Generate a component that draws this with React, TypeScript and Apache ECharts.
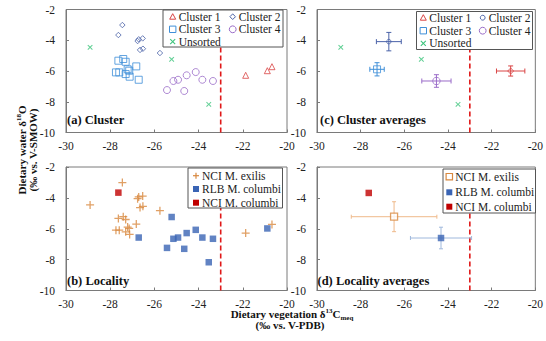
import React, { useEffect, useRef } from 'react';
import * as echarts from 'echarts';

const FONT = '"Liberation Serif", "Times New Roman", serif';

// axis ticks
const xMin = -30, xMax = -20, xStep = 2;
const yMin = -10, yMax = -2, yStep = 2;
const divideX = -23;

// (a) Cluster
const cluster1 = [[-21.87, -6.28], [-20.89, -5.98], [-20.68, -5.72]];
const cluster2 = [[-27.45, -3.01], [-27.63, -3.66], [-26.76, -4.05], [-26.71, -3.94], [-26.53, -3.88], [-26.65, -4.63], [-26.52, -4.55], [-25.75, -4.83]];
const cluster3 = [[-27.41, -5.22], [-27.63, -5.33], [-27.30, -5.40], [-27.74, -6.09], [-27.59, -6.09], [-27.21, -5.89], [-27.14, -5.98], [-27.30, -6.20], [-27.12, -6.37], [-26.82, -5.70], [-26.71, -6.57]];
const cluster4 = [[-25.43, -7.24], [-25.14, -6.65], [-24.93, -6.57], [-24.65, -7.30], [-24.54, -6.28], [-24.13, -6.07], [-23.83, -6.57], [-23.35, -6.65]];
const unsorted = [[-28.91, -4.46], [-25.22, -5.24], [-23.54, -8.17]];

// (b) Locality
const nciExilis = [[-27.45, -3.01], [-26.76, -4.05], [-26.71, -3.94], [-26.53, -3.88], [-26.65, -4.63], [-26.52, -4.55], [-25.75, -4.83],
  [-27.41, -5.22], [-27.63, -5.33], [-27.30, -5.40], [-27.74, -6.09], [-27.59, -6.09], [-27.21, -5.89], [-27.14, -5.98], [-27.30, -6.20], [-27.12, -6.37], [-26.82, -5.70],
  [-28.91, -4.46], [-21.87, -6.28], [-20.68, -5.72]];
const rlbColumbi = [[-25.43, -7.24], [-25.14, -6.65], [-24.93, -6.57], [-24.65, -7.30], [-24.54, -6.28], [-24.13, -6.07], [-23.83, -6.57], [-23.35, -6.65],
  [-25.22, -5.24], [-23.54, -8.17], [-26.71, -6.57], [-20.89, -5.98]];
const nciColumbi = [[-27.63, -3.66]];

// (c) Cluster averages: [x, y, xErr, yErr]
const c1Avg = [-21.13, -6.0, 0.65, 0.33];
const c2Avg = [-26.71, -4.09, 0.57, 0.6];
const c3Avg = [-27.25, -5.89, 0.33, 0.43];
const c4Avg = [-24.53, -6.65, 0.67, 0.41];

// (d) Locality averages
const exilisAvg = [-26.47, -5.22, 1.96, 0.97];
const rlbAvg = [-24.32, -6.6, 1.4, 0.7];
const nciColAvg = [-27.63, -3.68];

const C1 = '#d94444', C2 = '#4a62a8', C3 = '#3f8fd8', C4 = '#9a6cc8', CU = '#3cc47c';
const CEX = '#d8883f', CRLB = '#3a64b4', CNCI = '#c00000';

const PLUS = 'path://M4.2,0H5.8V4.2H10V5.8H5.8V10H4.2V5.8H0V4.2H4.2Z';
const DIAMOND = 'path://M5,0L10,5L5,10L0,5Z';

// layout (grid order: a, c, b, d)
const grids = [
  { left: 66, top: 9.5, width: 221, height: 123 },
  { left: 317, top: 9.5, width: 219, height: 123 },
  { left: 66, top: 167, width: 221, height: 123.5 },
  { left: 317, top: 167, width: 219, height: 123.5 },
];
const legendBoxes = [
  [163, 10, 120, 37],
  [416.5, 11.5, 116, 38],
  [188, 168, 94.5, 40],
  [443, 169, 92.5, 44],
];

function scatter(idx: number, name: string, data: number[][], symbol: string, size: number, color: string, filled: boolean, rotate = 0) {
  return {
    type: 'scatter', name, xAxisIndex: idx, yAxisIndex: idx, data, symbol, symbolSize: size, symbolRotate: rotate,
    itemStyle: filled ? { color, borderWidth: 0 } : { color: 'rgba(0,0,0,0)', borderColor: color, borderWidth: 1 },
    z: 4,
  };
}

function errBars(idx: number, d: number[], color: string, cap: number) {
  return {
    type: 'custom', xAxisIndex: idx, yAxisIndex: idx, data: [d], encode: { x: 0, y: 1 }, silent: true, z: 3,
    renderItem: (_p: any, api: any) => {
      const x = api.value(0), y = api.value(1), ex = api.value(2), ey = api.value(3);
      const l = api.coord([x - ex, y]), r = api.coord([x + ex, y]);
      const t = api.coord([x, y + ey]), b = api.coord([x, y - ey]);
      const st = { stroke: color, lineWidth: 1 };
      const ln = (x1: number, y1: number, x2: number, y2: number) => ({ type: 'line', shape: { x1, y1, x2, y2 }, style: st });
      return {
        type: 'group', children: [
          ln(l[0], l[1], r[0], r[1]), ln(t[0], t[1], b[0], b[1]),
          ln(l[0], l[1] - cap, l[0], l[1] + cap), ln(r[0], r[1] - cap, r[0], r[1] + cap),
          ln(t[0] - cap, t[1], t[0] + cap, t[1]), ln(b[0] - cap, b[1], b[0] + cap, b[1]),
        ],
      };
    },
  };
}

// dashed divider drawn through the axes' scales, stopping under the legend box
function divider(idx: number) {
  return {
    type: 'custom', xAxisIndex: idx, yAxisIndex: idx, data: [[divideX, yMin, yMax]], encode: { x: 0, y: 1 }, silent: true, z: 1,
    renderItem: (_p: any, api: any) => {
      const a = api.coord([api.value(0), api.value(1)]);
      const b = api.coord([api.value(0), api.value(2)]);
      const bx = legendBoxes[idx];
      let topY = b[1];
      if (a[0] >= bx[0] && a[0] <= bx[0] + bx[2]) topY = Math.max(topY, bx[1] + bx[3]);
      return { type: 'line', shape: { x1: a[0], y1: a[1], x2: b[0], y2: topY }, style: { stroke: '#e01818', lineWidth: 1.6, lineDash: [5, 3] } };
    },
  };
}

function icon(kind: string, cx: number, cy: number, color: string): any[] {
  const st = { stroke: color, fill: 'none', lineWidth: 1 };
  switch (kind) {
    case 'tri': return [{ type: 'polygon', shape: { points: [[cx, cy - 3], [cx + 3, cy + 2.5], [cx - 3, cy + 2.5]] }, style: st }];
    case 'dia': return [{ type: 'polygon', shape: { points: [[cx, cy - 2.8], [cx + 2.8, cy], [cx, cy + 2.8], [cx - 2.8, cy]] }, style: st }];
    case 'sq': return [{ type: 'rect', shape: { x: cx - 3.2, y: cy - 3.2, width: 6.4, height: 6.4 }, style: st }];
    case 'circ': return [{ type: 'circle', shape: { cx, cy, r: 3.4 }, style: st }];
    case 'scirc': return [{ type: 'circle', shape: { cx, cy, r: 2.4 }, style: st }];
    case 'x': return [
      { type: 'line', shape: { x1: cx - 2.5, y1: cy - 2.5, x2: cx + 2.5, y2: cy + 2.5 }, style: { stroke: color, lineWidth: 1.1 } },
      { type: 'line', shape: { x1: cx - 2.5, y1: cy + 2.5, x2: cx + 2.5, y2: cy - 2.5 }, style: { stroke: color, lineWidth: 1.1 } }];
    case 'plus': return [
      { type: 'line', shape: { x1: cx - 3, y1: cy, x2: cx + 3, y2: cy }, style: { stroke: color, lineWidth: 1.2 } },
      { type: 'line', shape: { x1: cx, y1: cy - 3, x2: cx, y2: cy + 3 }, style: { stroke: color, lineWidth: 1.2 } }];
    case 'fsq': return [{ type: 'rect', shape: { x: cx - 3, y: cy - 3, width: 6, height: 6 }, style: { fill: color } }];
    case 'osq': return [{ type: 'rect', shape: { x: cx - 3.2, y: cy - 3.2, width: 6.4, height: 6.4 }, style: { stroke: color, fill: '#fff', lineWidth: 1.2 } }];
  }
  return [];
}

function legendBox(box: number[], items: [string, string, string, number, number][]) {
  const out: any[] = [{ type: 'rect', shape: { x: box[0], y: box[1], width: box[2], height: box[3] }, style: { fill: '#ffffff', stroke: '#555', lineWidth: 1 } }];
  items.forEach(([kind, color, label, ix, iy]) => {
    out.push(...icon(kind, ix, iy, color));
    out.push({ type: 'text', x: ix + 6, y: iy, style: { text: label, fontFamily: FONT, fontSize: 11.5, fill: '#222', verticalAlign: 'middle', textAlign: 'left' } });
  });
  return out;
}

function panelTitle(text: string, x: number, y: number) {
  return { type: 'text', x, y, style: { text, fontFamily: FONT, fontSize: 12.5, fontWeight: 'bold', fill: '#111', verticalAlign: 'middle', textAlign: 'left' } };
}

const richBase = {
  sup: { fontFamily: FONT, fontSize: 7, fontWeight: 'bold', fill: '#111', verticalAlign: 'top', lineHeight: 14 },
  sub: { fontFamily: FONT, fontSize: 7, fontWeight: 'bold', fill: '#111', verticalAlign: 'bottom', lineHeight: 14 },
};

const overlayChildren = [
  ...legendBox(legendBoxes[0], [
    ['tri', C1, 'Cluster 1', 172.7, 16.7], ['dia', C2, 'Cluster 2', 232.7, 16.7],
    ['sq', C3, 'Cluster 3', 172.7, 29.3], ['circ', C4, 'Cluster 4', 232.7, 29.3],
    ['x', CU, 'Unsorted', 172.7, 41.7],
  ]),
  ...legendBox(legendBoxes[1], [
    ['tri', C1, 'Cluster 1', 423.3, 17.7], ['scirc', C2, 'Cluster 2', 482.7, 17.7],
    ['sq', C3, 'Cluster 3', 423.3, 30.7], ['circ', C4, 'Cluster 4', 482.7, 30.7],
    ['x', CU, 'Unsorted', 423.3, 43.3],
  ]),
  ...legendBox(legendBoxes[2], [
    ['plus', CEX, 'NCI M. exilis', 196, 175.7],
    ['fsq', CRLB, 'RLB M. columbi', 196, 189],
    ['fsq', CNCI, 'NCI M. columbi', 196, 202.7],
  ]),
  ...legendBox(legendBoxes[3], [
    ['osq', CEX, 'NCI M. exilis', 449.3, 176.7],
    ['fsq', CRLB, 'RLB M. columbi', 449.3, 192.3],
    ['fsq', CNCI, 'NCI M. columbi', 449.3, 206.7],
  ]),
  panelTitle('(a) Cluster', 67, 120),
  panelTitle('(c) Cluster averages', 320, 119.5),
  panelTitle('(b) Locality', 67, 280.5),
  panelTitle('(d) Locality averages', 317.5, 280.5),
];

export default function App() {
  const ref = useRef<HTMLDivElement>(null);
  useEffect(() => {
    if (!ref.current) return;
    const chart = echarts.init(ref.current, null, { renderer: 'svg' });
    const idxs = [0, 1, 2, 3];
    const option: any = {
      animation: false,
      backgroundColor: '#fff',
      grid: grids.map(g => ({ ...g, show: true, borderColor: '#7a7a7a', borderWidth: 1, backgroundColor: 'transparent' })),
      xAxis: idxs.map(i => ({
        gridIndex: i, type: 'value', min: xMin, max: xMax, interval: xStep,
        axisLine: { show: true, onZero: false, lineStyle: { color: '#7a7a7a' } },
        axisTick: { show: true, inside: true, length: 3, lineStyle: { color: '#7a7a7a' } },
        axisLabel: { margin: 7, fontFamily: FONT, fontSize: 11.5, color: '#222' },
        splitLine: { show: false },
      })),
      yAxis: idxs.map(i => ({
        gridIndex: i, type: 'value', min: yMin, max: yMax, interval: yStep,
        axisLine: { show: true, onZero: false, lineStyle: { color: '#7a7a7a' } },
        axisTick: { show: true, inside: true, length: 3, lineStyle: { color: '#7a7a7a' } },
        axisLabel: { margin: 11, fontFamily: FONT, fontSize: 11.5, color: '#222' },
        splitLine: { show: false },
      })),
      series: [
        ...idxs.map(i => divider(i)),
        // (a)
        scatter(0, 'Cluster 1', cluster1, 'triangle', 6, C1, false),
        scatter(0, 'Cluster 2', cluster2, DIAMOND, 5.5, C2, false),
        scatter(0, 'Cluster 3', cluster3, 'rect', 7, C3, false),
        scatter(0, 'Cluster 4', cluster4, 'circle', 7, C4, false),
        scatter(0, 'Unsorted', unsorted, PLUS, 6.5, CU, true, 45),
        // (c)
        errBars(1, c1Avg, C1, 2.5), errBars(1, c2Avg, C2, 2.5), errBars(1, c3Avg, C3, 2.5), errBars(1, c4Avg, C4, 2.5),
        scatter(1, 'C1 avg', [c1Avg.slice(0, 2)], DIAMOND, 6, C1, false),
        scatter(1, 'C2 avg', [c2Avg.slice(0, 2)], 'circle', 4.5, C2, false),
        scatter(1, 'C3 avg', [c3Avg.slice(0, 2)], 'rect', 7, C3, false),
        scatter(1, 'C4 avg', [c4Avg.slice(0, 2)], 'circle', 7.5, C4, false),
        scatter(1, 'Unsorted c', unsorted, PLUS, 6.5, CU, true, 45),
        // (b)
        scatter(2, 'NCI M. exilis', nciExilis, PLUS, 8, CEX, true),
        scatter(2, 'RLB M. columbi', rlbColumbi, 'rect', 6.5, CRLB, true),
        scatter(2, 'NCI M. columbi', nciColumbi, 'rect', 6.5, CNCI, true),
        // (d)
        errBars(3, exilisAvg, '#efb98a', 2), errBars(3, rlbAvg, '#9fb8dc', 2),
        { ...scatter(3, 'exilis avg', [exilisAvg.slice(0, 2)], 'rect', 7, CEX, false), itemStyle: { color: '#fff', borderColor: CEX, borderWidth: 1.3 } },
        scatter(3, 'rlb avg', [rlbAvg.slice(0, 2)], 'rect', 6.5, CRLB, true),
        scatter(3, 'nci col avg', [nciColAvg], 'rect', 6.5, CNCI, true),
        // legends & panel titles overlay
        {
          type: 'custom', xAxisIndex: 0, yAxisIndex: 0, data: [[xMin, yMin]], silent: true, z: 20, clip: false,
          renderItem: () => ({ type: 'group', children: overlayChildren }),
        },
      ],
      graphic: { elements: [
        {
          type: 'text', x: 22, y: 150, rotation: Math.PI / 2,
          style: { text: 'Dietary water δ{sup|18}O', fontFamily: FONT, fontSize: 11, fontWeight: 'bold', fill: '#111', textAlign: 'center', verticalAlign: 'middle', lineHeight: 14, rich: richBase },
        },
        {
          type: 'text', x: 33, y: 150, rotation: Math.PI / 2,
          style: { text: '(‰ vs. V-SMOW)', fontFamily: FONT, fontSize: 11, fontWeight: 'bold', fill: '#111', textAlign: 'center', verticalAlign: 'middle' },
        },
        {
          type: 'text', x: 292, y: 314,
          style: { text: 'Dietary vegetation δ{sup|13}C{sub|meq}', fontFamily: FONT, fontSize: 11, fontWeight: 'bold', fill: '#111', textAlign: 'center', verticalAlign: 'middle', lineHeight: 14, rich: richBase },
        },
        {
          type: 'text', x: 290, y: 325,
          style: { text: '(‰ vs. V-PDB)', fontFamily: FONT, fontSize: 11, fontWeight: 'bold', fill: '#111', textAlign: 'center', verticalAlign: 'middle' },
        },
      ] },
    };
    chart.setOption(option);
    return () => chart.dispose();
  }, []);
  return <div ref={ref} style={{ position: 'absolute', left: 0, top: 0, width: 546, height: 341 }} />;
}
